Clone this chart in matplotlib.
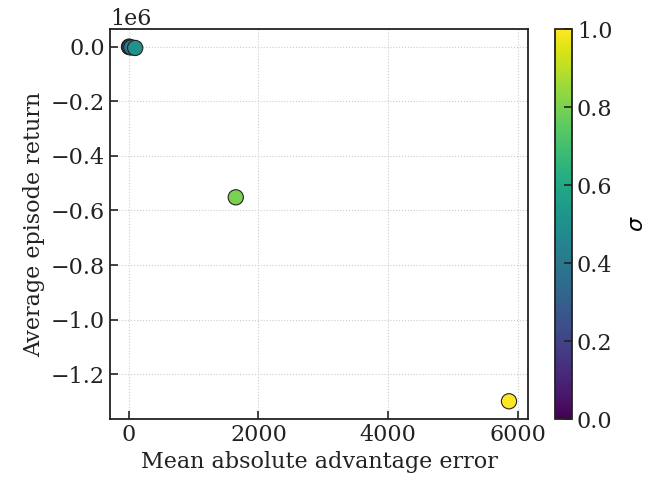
import matplotlib
matplotlib.use("Agg")
import matplotlib.pyplot as plt
import numpy as np

# values
sigma = [0.1, 0.2, 0.3, 0.4, 0.5, 0.8, 1.0]
adv_error = [5, 10, 15, 40, 100, 1650, 5860]
avg_return = [-500, -1000, -2000, -3000, -5000, -552000, -1299000]

plt.rcParams['font.family'] = ['DejaVu Serif']
plt.rcParams['font.size'] = 16

W, H = 668, 483
fig = plt.figure(figsize=(W / 100, H / 100), dpi=100)
ax = fig.add_axes([110 / W, 1 - 419 / H, 418 / W, 390 / H])
cax = fig.add_axes([555 / W, 1 - 419 / H, 17 / W, 390 / H])

sc = ax.scatter(adv_error, avg_return, c=sigma, cmap='viridis', vmin=0, vmax=1,
                s=120, edgecolors='#222222', linewidths=0.8, zorder=3)
ax.grid(True, linestyle=':', color='#cccccc', linewidth=0.8)
ax.tick_params(direction='in', length=6, width=1.2, labelsize=16, colors='#222222')
for sp in ax.spines.values():
    sp.set_linewidth(1.3)
    sp.set_color('#222222')
ax.set_xticks([0, 2000, 4000, 6000])
ax.set_xlabel('Mean absolute advantage error', fontsize=16, color='#222222')
ax.set_ylabel('Average episode return', fontsize=16, color='#222222')

cb = fig.colorbar(sc, cax=cax)
cb.set_label(r'$\sigma$', fontsize=16, labelpad=10)
cb.ax.tick_params(direction='in', length=6, width=1.2, labelsize=16, colors='#222222')
cb.outline.set_linewidth(1.3)
cb.outline.set_edgecolor('#222222')

fig.savefig('out.png', dpi=100)
